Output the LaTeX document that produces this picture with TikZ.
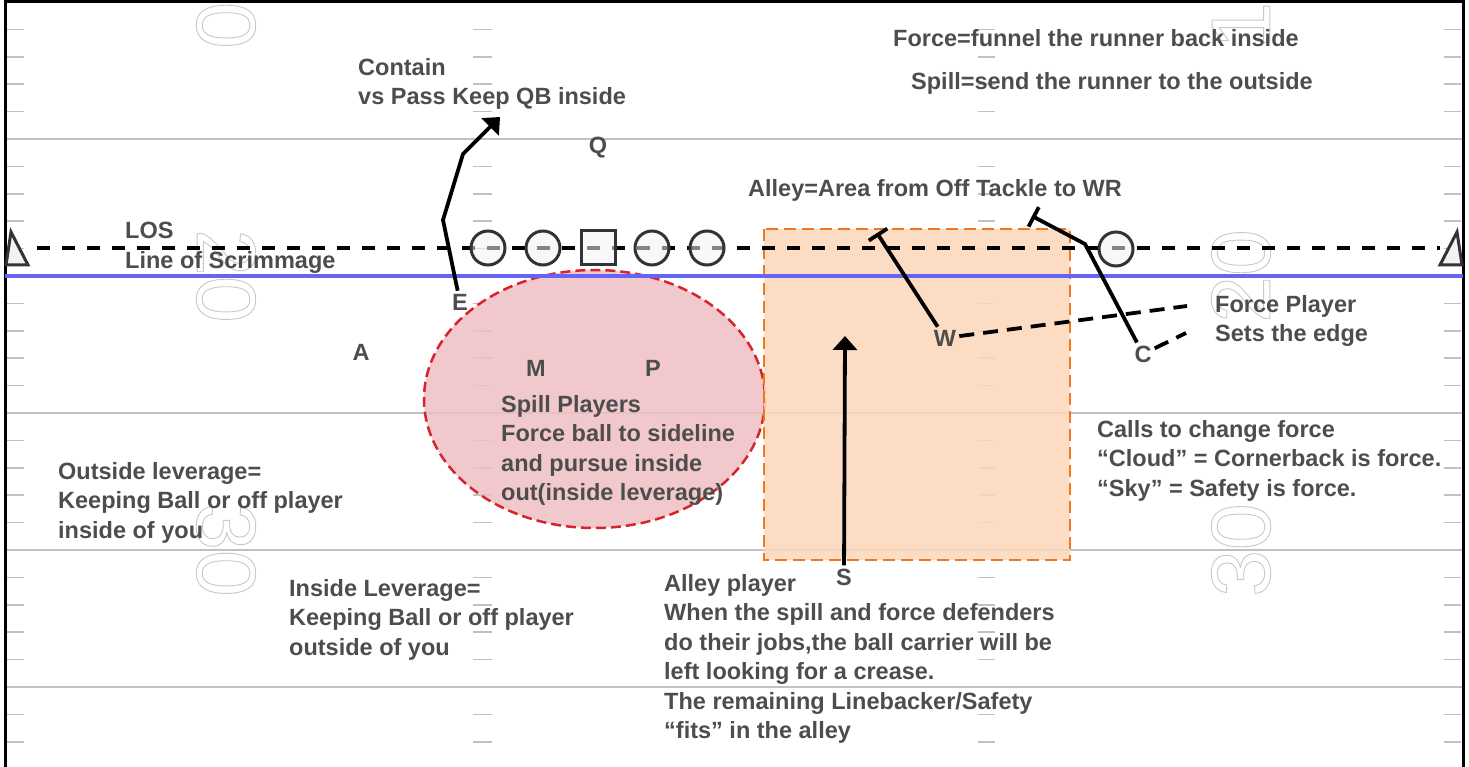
\documentclass[tikz,border=0pt]{standalone}
\usepackage{fontspec}
\setmainfont{Liberation Sans}
\usetikzlibrary{arrows.meta}
\definecolor{txtgray}{RGB}{77,77,77}
\definecolor{fieldgray}{RGB}{192,192,192}
\definecolor{numgray}{RGB}{200,200,200}
\definecolor{losblue}{RGB}{100,100,245}
\definecolor{spillred}{RGB}{215,35,45}
\definecolor{spillfill}{RGB}{238,192,195}
\definecolor{alleyorange}{RGB}{240,120,30}
\definecolor{alleyfill}{RGB}{252,215,186}
\newcommand\outlinenum[1]{\special{pdf:literal direct 1 Tr 0.9 w}#1\special{pdf:literal direct 0 Tr}}
\begin{document}
\begin{tikzpicture}
[x=1pt,y=-1pt,
  yardline/.style={draw=fieldgray,line width=2.5pt},
  hashmark/.style={draw=fieldgray,line width=1.5pt},
  yardnum/.style={text=numgray,font=\fontsize{84}{84}\selectfont,inner sep=0pt},
  note/.style={text=txtgray,font=\bfseries\fontsize{23.5}{29.5}\selectfont,inner sep=0pt,anchor=north west,align=left},
  player/.style={text=txtgray,font=\bfseries\fontsize{23.5}{29.5}\selectfont,inner sep=3pt},
  lineman/.style={circle,draw=black!80,line width=3pt,fill=black!5,fill opacity=0.55,minimum size=34pt,inner sep=0pt},
  snapper/.style={rectangle,draw=black!80,line width=3pt,fill=black!5,fill opacity=0.55,minimum size=34pt,inner sep=0pt},
  endman/.style={draw=black!80,line width=3pt,fill=black!5},
  route/.style={draw=black,line width=3.8pt,line join=round},
  runarrow/.style={route,-{Triangle[length=14pt,width=24pt]}},
  blockline/.style={route,-{Bar[width=22pt,line width=3.8pt]}},
  dropline/.style={route,dash pattern=on 15pt off 9pt}]
\useasboundingbox (0,0) rectangle (1469,767);
% field
\foreach \yy in {139,276,413,550,687}
  \draw[yardline] (5,\yy) -- (1463,\yy);
\foreach \k in {1,2,3,4,6,7,8,9,11,12,13,14,16,17,18,19,21,22,23,24,26,27}{
  \draw[hashmark] (7,2+27.4*\k) -- (24,2+27.4*\k);
  \draw[hashmark] (473,2+27.4*\k) -- (492,2+27.4*\k);
  \draw[hashmark] (978,2+27.4*\k) -- (995,2+27.4*\k);
  \draw[hashmark] (1444,2+27.4*\k) -- (1461,2+27.4*\k);
}
\node (num10l) at (226,2) [yardnum,rotate=-90] {\outlinenum{10}};
\node (num20l) at (226,276) [yardnum,rotate=-90] {\outlinenum{20}};
\node (num30l) at (226,550) [yardnum,rotate=-90] {\outlinenum{30}};
\node (num10r) at (1241,2) [yardnum,rotate=90] {\outlinenum{10}};
\node (num20r) at (1241,276) [yardnum,rotate=90] {\outlinenum{20}};
\node (num30r) at (1241,550) [yardnum,rotate=90] {\outlinenum{30}};
\draw[black,line width=3pt] (5,780) -- (5,2) -- (1463,2) -- (1463,780);
% zones
\draw[draw=spillred,fill=spillfill,fill opacity=0.85,line width=2.5pt,dash pattern=on 10pt off 5pt]
  (594.5,399) ellipse [x radius=170.5,y radius=129];
\draw[draw=alleyorange,fill=alleyfill,fill opacity=0.85,line width=2.5pt,dash pattern=on 12pt off 6pt]
  (764,229) rectangle (1070,560);
% line of scrimmage
\draw[losblue,line width=4.5pt] (5,276) -- (1463,276);
\draw[black,line width=4pt,dash pattern=on 13pt off 12pt] (37,248) -- (1440,248);
% offense
\draw[endman] (6,265) -- (11,232) -- (28,265) -- cycle;
\draw[endman] (1462,265) -- (1457,232) -- (1440,265) -- cycle;
\node (lt) at (488,248) [lineman] {};
\node (lg) at (543,248) [lineman] {};
\node (ce) at (598,248) [snapper] {};
\node (rg) at (652,248) [lineman] {};
\node (rt) at (707,248) [lineman] {};
\node (wr) at (1116,249) [lineman] {};
\node (q) at (598,148) [player] {Q};
% defense
\node (e) at (460,302) [player] {E};
\node (a) at (361,352) [player] {A};
\node (m) at (536,368) [player] {M};
\node (p) at (653,368) [player] {P};
\node (w) at (945,338) [player] {W};
\node (c) at (1143,354) [player] {C};
\node (s) at (844,577) [player] {S};
% route ends
\coordinate (eBend) at (443,220);
\coordinate (eTurn) at (463,154);
\coordinate (eTip) at (500,117);
\coordinate (sTip) at (845,336);
\coordinate (wBlock) at (877,233);
\coordinate (wDrop) at (1187,306);
\coordinate (cBend) at (1085,244);
\coordinate (cBlock) at (1032,216);
\coordinate (cDrop) at (1186,333);
% routes
\draw[runarrow] (e) -- (eBend) -- (eTurn) -- (eTip);
\draw[runarrow] (s) -- (sTip);
\draw[blockline] (w) -- (wBlock);
\draw[blockline] (c) -- (cBend) -- (cBlock);
\path
(w) edge[dropline] (wDrop)
(c) edge[dropline] (cDrop);
% notes
\node (contain) at (358,58) [note] {Contain\\vs Pass Keep QB inside};
\node (forcedef) at (893,29) [note] {Force=funnel the runner back inside};
\node (spilldef) at (911,72) [note] {Spill=send the runner to the outside};
\node (alleydef) at (748,179) [note] {Alley=Area from Off Tackle to WR};
\node (los) at (125,222) [note] {LOS\\Line of Scrimmage};
\node (spillnote) at (501,395) [note] {Spill Players\\Force ball to sideline\\and pursue inside\\out(inside leverage)};
\node (forcenote) at (1215,295) [note] {Force Player\\Sets the edge};
\node (calls) at (1097,420) [note] {Calls to change force\\“Cloud” = Cornerback is force.\\“Sky” = Safety is force.};
\node (outlev) at (58,462) [note] {Outside leverage=\\Keeping Ball or off player\\inside of you};
\node (inlev) at (289,579) [note] {Inside Leverage=\\Keeping Ball or off player\\outside of you};
\node (alleynote) at (664,574) [note] {Alley player\\When the spill and force defenders\\do their jobs,the ball carrier will be\\left looking for a crease.\\The remaining Linebacker/Safety\\“fits” in the alley};
\end{tikzpicture}
\end{document}
